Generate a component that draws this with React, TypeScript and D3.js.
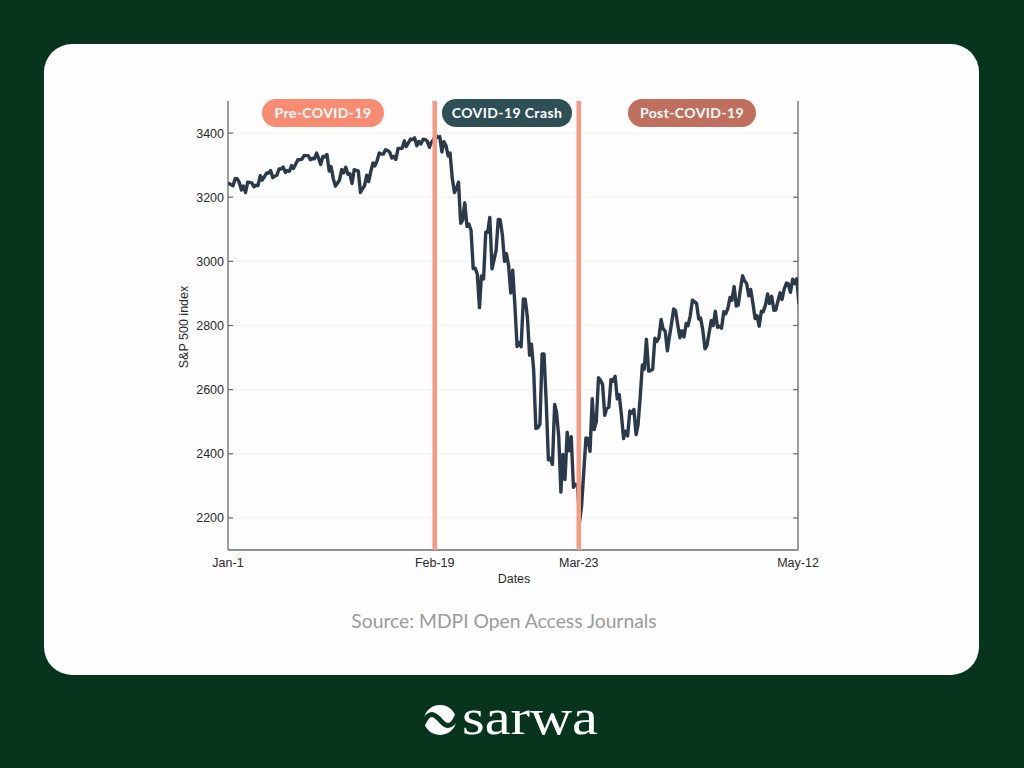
import React from "react";
import * as d3 from "d3";

// ---- data ----
const dayLabels = [
  "Jan-2","Jan-3","Jan-6","Jan-7","Jan-8","Jan-9","Jan-10","Jan-13","Jan-14","Jan-15","Jan-16","Jan-17","Jan-21","Jan-22","Jan-23","Jan-24","Jan-27","Jan-28","Jan-29","Jan-30","Jan-31",
  "Feb-3","Feb-4","Feb-5","Feb-6","Feb-7","Feb-10","Feb-11","Feb-12","Feb-13","Feb-14","Feb-18","Feb-19","Feb-20","Feb-21","Feb-24","Feb-25","Feb-26","Feb-27","Feb-28",
  "Mar-2","Mar-3","Mar-4","Mar-5","Mar-6","Mar-9","Mar-10","Mar-11","Mar-12","Mar-13","Mar-16","Mar-17","Mar-18","Mar-19","Mar-20","Mar-23","Mar-24","Mar-25","Mar-26","Mar-27","Mar-30","Mar-31",
  "Apr-1","Apr-2","Apr-3","Apr-6","Apr-7","Apr-8","Apr-9","Apr-13","Apr-14","Apr-15","Apr-16","Apr-17","Apr-20","Apr-21","Apr-22","Apr-23","Apr-24","Apr-27","Apr-28","Apr-29","Apr-30",
  "May-1","May-4","May-5","May-6","May-7","May-8","May-11","May-12",
];
const firstOpen = 3244.67;
const closes = [
  3257.85,3234.85,3246.28,3237.18,3253.05,3274.70,3265.35,3288.13,3283.15,3289.29,3316.81,3329.62,3320.79,3321.75,3325.54,3295.47,3243.63,3276.24,3273.40,3283.66,3225.52,
  3248.92,3297.59,3334.69,3345.78,3327.71,3352.09,3357.75,3379.45,3373.94,3380.16,3370.29,3386.15,3373.23,3337.75,3225.89,3128.21,3116.39,2978.76,2954.22,
  3090.23,3003.37,3130.12,3023.94,2972.37,2746.56,2882.23,2741.38,2480.64,2711.02,2386.13,2529.19,2398.10,2409.39,2304.92,2237.40,2447.33,2475.56,2630.07,2541.47,2626.65,2584.59,
  2470.50,2526.90,2488.65,2663.68,2659.41,2749.98,2789.82,2761.63,2846.06,2783.36,2799.55,2874.56,2823.16,2736.56,2799.31,2797.80,2836.74,2878.48,2863.39,2939.51,2912.43,
  2830.71,2842.74,2868.44,2848.42,2881.19,2929.80,2930.32,2870.12,
];
const highs = [
  3258.14,3246.15,3246.84,3244.91,3267.07,3275.58,3282.99,3288.13,3294.25,3298.66,3317.11,3329.88,3329.79,3337.77,3326.88,3333.18,3258.85,3285.78,3293.47,3285.91,3282.33,
  3268.44,3306.92,3337.58,3347.96,3341.42,3352.26,3375.63,3381.47,3385.09,3380.69,3375.01,3393.52,3389.15,3360.76,3259.81,3246.99,3182.51,3097.07,2959.72,
  3090.96,3136.72,3130.97,3083.04,2985.93,2863.89,2882.59,2825.60,2660.95,2711.33,2562.98,2553.93,2453.57,2466.97,2453.01,2300.73,2449.71,2571.42,2637.01,2615.91,2631.80,2641.39,
  2522.75,2533.22,2538.18,2676.85,2756.89,2760.75,2818.57,2782.46,2851.85,2801.88,2806.51,2879.22,2868.98,2785.54,2815.10,2844.24,2842.71,2887.72,2921.40,2954.86,2930.91,
  2869.09,2844.24,2898.23,2891.11,2901.92,2932.16,2944.25,2945.82,
];
const lows = [
  3235.53,3222.34,3214.64,3232.43,3236.67,3263.67,3260.86,3268.43,3277.19,3280.69,3302.82,3318.86,3316.61,3320.04,3301.87,3281.53,3234.50,3253.22,3271.89,3242.80,3214.68,
  3235.66,3280.61,3313.75,3334.39,3322.12,3317.77,3352.72,3369.72,3360.52,3366.15,3355.61,3378.83,3341.02,3328.45,3214.65,3118.77,3108.99,2977.39,2855.84,
  2945.19,2976.63,3034.38,2999.83,2901.54,2734.43,2734.00,2707.22,2478.86,2492.37,2380.94,2367.04,2280.52,2319.78,2295.56,2191.86,2344.44,2407.53,2500.72,2520.02,2545.28,2571.15,
  2447.49,2455.79,2459.96,2574.57,2657.67,2663.30,2762.36,2721.17,2805.10,2761.54,2764.32,2830.88,2820.43,2727.10,2775.95,2794.26,2791.76,2852.89,2860.71,2912.16,2892.47,
  2821.61,2797.85,2863.55,2847.65,2876.48,2913.86,2903.44,2869.59,
];
const xTickLabels = ["Jan-1", "Feb-19", "Mar-23", "May-12"];
const xTickIndex = [0, 33, 56, 91];
const yTicks = [2200, 2400, 2600, 2800, 3000, 3200, 3400];
const phaseLabels = ["Pre-COVID-19", "COVID-19 Crash", "Post-COVID-19"];
const phaseCenters = [323, 507, 692];
const phaseWidths = [122, 130, 128];
const phaseColors = ["#f88c73", "#2f4f56", "#c06f5e"];
const crashMarkers = [33, 56];

const W = 1024, H = 768;
const M = { left: 228, right: 798, top: 101, bottom: 550 };

export default function App() {
  const x = d3.scaleLinear().domain([0, 91]).range([M.left, M.right]);
  const y = d3.scaleLinear().domain([2100, 3500]).range([M.bottom, M.top]);

  const pts: [number, number][] = [[0, firstOpen]];
  let prev = firstOpen;
  closes.forEach((c, k) => {
    const i = k + 1;
    const up = c >= prev;
    const e1 = up ? lows[k] : highs[k];
    const e2 = up ? highs[k] : lows[k];
    pts.push([i - 0.2, e1]);
    pts.push([i + 0.15, e2]);
    pts.push([i + 0.45, c]);
    prev = c;
  });
  const line = d3.line<[number, number]>().x(d => x(d[0])).y(d => y(d[1]));
  const axisColor = "#6a6a6a";
  const font = "'Liberation Sans', Arial, sans-serif";

  return (
    <svg width={W} height={H} style={{ position: "absolute", left: 0, top: 0, display: "block" }}>
      <rect x={0} y={0} width={W} height={H} fill="#07341c" />
      <rect x={44} y={44} width={935} height={631} rx={28} ry={28} fill="#fdfdfd" />
      <defs>
        <clipPath id="plotclip">
          <rect x={M.left} y={M.top - 10} width={M.right - M.left} height={M.bottom - M.top + 10} />
        </clipPath>
      </defs>
      {/* faint grid */}
      {yTicks.map(t => (
        <line key={"g" + t} x1={M.left} x2={M.right} y1={y(t)} y2={y(t)} stroke="#f1f1f1" strokeWidth={1} />
      ))}
      {/* axes */}
      <line x1={M.left} x2={M.left} y1={M.top} y2={M.bottom} stroke={axisColor} strokeWidth={1.3} />
      <line x1={M.right} x2={M.right} y1={M.top} y2={M.bottom} stroke={axisColor} strokeWidth={1.3} />
      <line x1={M.left} x2={M.right} y1={M.bottom} y2={M.bottom} stroke={axisColor} strokeWidth={1.3} />
      {yTicks.map(t => (
        <g key={"t" + t}>
          <line x1={M.left} x2={M.left + 5} y1={y(t)} y2={y(t)} stroke={axisColor} strokeWidth={1.2} />
          <line x1={M.right - 5} x2={M.right} y1={y(t)} y2={y(t)} stroke={axisColor} strokeWidth={1.2} />
          <text x={M.left - 4} y={y(t) + 4.5} textAnchor="end" fontFamily={font} fontSize={12.5} fill="#2a2a2a">{t}</text>
        </g>
      ))}
      {xTickLabels.map((l, i) => (
        <text key={l} x={x(xTickIndex[i])} y={567} textAnchor="middle" fontFamily={font} fontSize={12.5} fill="#2a2a2a">{l}</text>
      ))}
      <text x={514} y={583} textAnchor="middle" fontFamily={font} fontSize={12.5} fill="#2a2a2a">Dates</text>
      <text transform={`translate(188,327) rotate(-90)`} textAnchor="middle" fontFamily={font} fontSize={12.5} fill="#2a2a2a">S&amp;P 500 index</text>
      {/* series */}
      <path d={line(pts) || ""} fill="none" stroke="#2b3a4a" strokeWidth={3.4} strokeLinejoin="round" clipPath="url(#plotclip)" />
      {/* phase markers */}
      {crashMarkers.map(m => (
        <line key={"m" + m} x1={x(m)} x2={x(m)} y1={M.top} y2={M.bottom} stroke="#f89a82" strokeWidth={4.5} />
      ))}
      {phaseLabels.map((l, i) => (
        <g key={l}>
          <rect x={phaseCenters[i] - phaseWidths[i] / 2} y={99} width={phaseWidths[i]} height={28} rx={14} fill={phaseColors[i]} />
          <text x={phaseCenters[i]} y={118} textAnchor="middle" fontFamily="Lato, sans-serif" fontWeight={700} fontSize={14} letterSpacing={0.4} fill="#ffffff">{l}</text>
        </g>
      ))}
      <text x={504} y={628} textAnchor="middle" fontFamily="Lato, sans-serif" fontSize={19.3} fill="#9b9b9b">Source: MDPI Open Access Journals</text>
      {/* logo */}
      <g>
        <ellipse cx={440} cy={720} rx={16} ry={15} fill="#ffffff" />
        <path d="M 423 724 C 430 708, 436 716, 440 720 C 444 724, 450 732, 457 716" fill="none" stroke="#07341c" strokeWidth={5} />
        <text x={462} y={734} fontFamily="'Liberation Serif', 'DejaVu Serif', serif" fontSize={50} fill="#ffffff" textLength={136} lengthAdjust="spacingAndGlyphs">sarwa</text>
      </g>
    </svg>
  );
}
